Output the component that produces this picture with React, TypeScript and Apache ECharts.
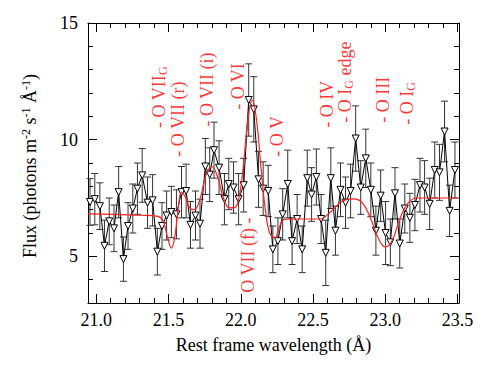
import React, { useEffect, useRef } from "react";
import * as echarts from "echarts";

const wavelength = [
  20.957, 20.99, 21.025, 21.057, 21.09, 21.123, 21.155, 21.188, 21.22, 21.253,
  21.285, 21.318, 21.355, 21.39, 21.423, 21.455, 21.487, 21.52, 21.555, 21.59,
  21.622, 21.652, 21.687, 21.718, 21.755, 21.785, 21.815, 21.85, 21.887, 21.917,
  21.95, 21.985, 22.02, 22.055, 22.09, 22.123, 22.155, 22.19, 22.222, 22.257,
  22.29, 22.325, 22.355, 22.39, 22.425, 22.46, 22.49, 22.523, 22.556, 22.588,
  22.623, 22.655, 22.69, 22.725, 22.76, 22.795, 22.83, 22.865, 22.9, 22.935,
  22.968, 23.002, 23.035, 23.067, 23.1, 23.135, 23.17, 23.205, 23.24, 23.272,
  23.307, 23.342, 23.375, 23.41, 23.445, 23.482,
];
const flux = [
  7.33, 7.45, 7.15, 5.45, 6.5, 6.2, 7.75, 4.88, 6.3, 7.05,
  7.9, 8.47, 7.3, 7.4, 5.2, 6.3, 6.75, 6.9, 6.8, 7.75,
  7.8, 6.35, 6.75, 6.4, 8.85, 8.5, 9.55, 8.8, 7.45, 8.1,
  7.95, 7.45, 8.05, 11.7, 11.3, 8.3, 7.9, 7.8, 5.3, 5.65,
  6.8, 8.1, 5.65, 6.6, 5.3, 8.35, 7.65, 8.4, 6.6, 5.15,
  8.35, 6.1, 7.85, 7.3, 7.8, 10.05, 7.95, 9.2, 7.85, 6.1,
  7.6, 6.0, 5.6, 7.7, 5.55, 7.05, 6.65, 7.2, 8.05, 7.95,
  7.25, 8.7, 8.6, 10.35, 6.95, 8.7,
];
const fluxErr = [
  1.0, 1.1, 1.0, 1.1, 1.0, 1.0, 1.1, 0.95, 1.0, 1.05,
  1.1, 1.15, 1.1, 1.1, 1.0, 1.0, 1.05, 1.1, 1.05, 1.1,
  1.15, 1.0, 1.05, 1.05, 1.2, 1.15, 1.2, 1.15, 1.1, 1.1,
  1.1, 1.1, 1.15, 1.55, 1.4, 1.2, 1.15, 1.1, 1.0, 1.0,
  1.1, 1.45, 1.0, 1.05, 1.0, 1.2, 1.15, 1.2, 1.05, 1.4,
  1.3, 1.05, 1.15, 1.1, 1.15, 1.4, 1.15, 1.25, 1.15, 1.05,
  1.1, 1.35, 1.0, 1.1, 1.05, 1.05, 1.05, 1.1, 1.15, 1.15,
  1.1, 1.2, 1.2, 1.3, 1.1, 1.2,
];

const modelWave = [
  20.943, 21.1, 21.3, 21.42, 21.46, 21.49, 21.52, 21.545, 21.57, 21.59,
  21.62, 21.65, 21.68, 21.72, 21.76, 21.8, 21.84, 21.88, 21.92, 21.96,
  21.99, 22.02, 22.05, 22.08, 22.11, 22.14, 22.17, 22.2, 22.235, 22.27,
  22.3, 22.4, 22.55, 22.62, 22.7, 22.78, 22.84, 22.9, 22.95, 23.0,
  23.05, 23.1, 23.16, 23.22, 23.3, 23.51,
];
const modelFlux = [
  6.82, 6.8, 6.76, 6.72, 6.55, 5.9, 5.35, 5.9, 7.2, 7.75,
  7.5, 7.05, 7.0, 7.5, 8.5, 8.85, 8.4, 7.5, 7.08, 7.1,
  7.6, 9.0, 10.9, 11.7, 10.8, 8.8, 7.0, 6.0, 5.8, 6.3,
  6.58, 6.6, 6.6, 6.9, 7.35, 7.46, 7.3, 6.6, 5.8, 5.4,
  5.7, 6.6, 7.3, 7.5, 7.5, 7.5,
];

const lineLabels = [
  "- O VII{g|G}", "- O VII (r)", "- O VII (i)", "- O VI", "- O V",
  "- O IV", "- O I{g|G} edge", "- O III", "- O I{g|G}", "O VII (f) -",
];
const lineWave = [21.435, 21.566, 21.767, 21.982, 22.25, 22.597, 22.72, 22.985, 23.15, 22.05];
const lineAnchor = [10.5, 9.27, 10.56, 11.28, 9.27, 10.51, 10.73, 10.73, 10.64, 3.44];

const xTicks = ["21.0", "21.5", "22.0", "22.5", "23.0", "23.5"];
const yTicks = ["5", "10", "15"];

const FONT = "Liberation Serif";

export default function App() {
  const ref = useRef<HTMLDivElement>(null);
  useEffect(() => {
    if (!ref.current) return;
    const chart = echarts.init(ref.current, null, { renderer: "svg" });
    const pts = wavelength.map((w, i) => [w, flux[i]]);
    const errPts = wavelength.map((w, i) => [w, flux[i], fluxErr[i]]);
    const model = modelWave.map((w, i) => [w, modelFlux[i]]);
    const ann = lineLabels.map((t, i) => [lineWave[i], lineAnchor[i], t]);

    const xFmt = (v: number) => {
      const s = v.toFixed(1);
      return xTicks.includes(s) && Math.abs(v - Number(s)) < 1e-6 ? s : "";
    };
    const yFmt = (v: number) => (yTicks.includes(String(v)) ? String(v) : "");

    const axisCommon = {
      axisLine: { show: true, onZero: false, lineStyle: { color: "#000", width: 1 } },
      axisTick: { show: true, inside: true, length: 9, lineStyle: { color: "#000", width: 1 } },
      minorTick: { show: true, splitNumber: 5, length: 5, lineStyle: { color: "#000", width: 1 } },
      splitLine: { show: false },
    };

    chart.setOption({
      animation: false,
      backgroundColor: "#fff",
      grid: { left: 88, top: 23, width: 371, height: 280 },
      xAxis: [
        {
          type: "value", min: 20.943, max: 23.51, splitNumber: 5, position: "bottom",
          ...axisCommon,
          axisLabel: { formatter: xFmt, fontFamily: FONT, fontSize: 18, color: "#000", margin: 8 },
          name: "Rest frame wavelength (\u00c5)", nameLocation: "middle", nameGap: 33,
          nameTextStyle: { fontFamily: FONT, fontSize: 18, color: "#000" },
        },
        {
          type: "value", min: 20.943, max: 23.51, splitNumber: 5, position: "top",
          ...axisCommon,
          axisLabel: { show: false },
        },
      ],
      yAxis: [
        {
          type: "value", min: 3, max: 15, splitNumber: 2, position: "left",
          ...axisCommon,
          axisLabel: { formatter: yFmt, fontFamily: FONT, fontSize: 18, color: "#000", margin: 10 },
        },
        {
          type: "value", min: 3, max: 15, splitNumber: 2, position: "right",
          ...axisCommon,
          axisLabel: { show: false },
        },
      ],
      graphic: [
        {
          type: "text", x: 30, y: 166, rotation: Math.PI / 2,
          style: {
            text: "Flux (photons m{sup|-2} s{sup|-1} \u00c5{sup|-1})",
            fontFamily: FONT, fontSize: 18, fill: "#000",
            align: "center", verticalAlign: "middle",
            rich: { sup: { fontFamily: FONT, fontSize: 12, verticalAlign: "top", padding: [0, 0, 8, 0] } },
          },
        },
      ],
      series: [
        {
          type: "custom",
          data: errPts,
          encode: { x: 0, y: 1 },
          renderItem: (params: any, api: any) => {
            const x = api.value(0), y = api.value(1), e = api.value(2);
            const top = api.coord([x, y + e]);
            const bot = api.coord([x, y - e]);
            const w = 3.5;
            const st = { stroke: "#333", lineWidth: 1 };
            return {
              type: "group",
              children: [
                { type: "line", shape: { x1: top[0], y1: top[1], x2: bot[0], y2: bot[1] }, style: st },
                { type: "line", shape: { x1: top[0] - w, y1: top[1], x2: top[0] + w, y2: top[1] }, style: st },
                { type: "line", shape: { x1: bot[0] - w, y1: bot[1], x2: bot[0] + w, y2: bot[1] }, style: st },
              ],
            };
          },
          z: 2,
        },
        {
          type: "line",
          data: pts,
          symbol: "triangle",
          symbolRotate: 180,
          symbolSize: 7,
          showSymbol: true,
          showAllSymbol: true,
          lineStyle: { color: "#000", width: 1 },
          itemStyle: { color: "#fff", borderColor: "#000", borderWidth: 1 },
          z: 3,
        },
        {
          type: "line",
          data: model,
          smooth: 0.4,
          symbol: "none",
          lineStyle: { color: "#ff2020", width: 1.2 },
          z: 4,
        },
        {
          type: "scatter",
          data: ann,
          symbolSize: 0.01,
          itemStyle: { color: "rgba(0,0,0,0)" },
          label: {
            show: true,
            position: [0, 0],
            rotate: 90,
            align: "left",
            verticalAlign: "middle",
            formatter: (p: any) => p.value[2],
            fontFamily: FONT,
            fontSize: 18,
            color: "#ff0000",
            rich: { g: { fontFamily: FONT, fontSize: 12, color: "#ff0000", verticalAlign: "bottom", padding: [8, 0, 0, 0] } },
          },
          z: 5,
        },
      ],
    });
    return () => chart.dispose();
  }, []);
  return <div ref={ref} style={{ position: "fixed", left: 0, top: 0, width: 491, height: 386 }} />;
}
